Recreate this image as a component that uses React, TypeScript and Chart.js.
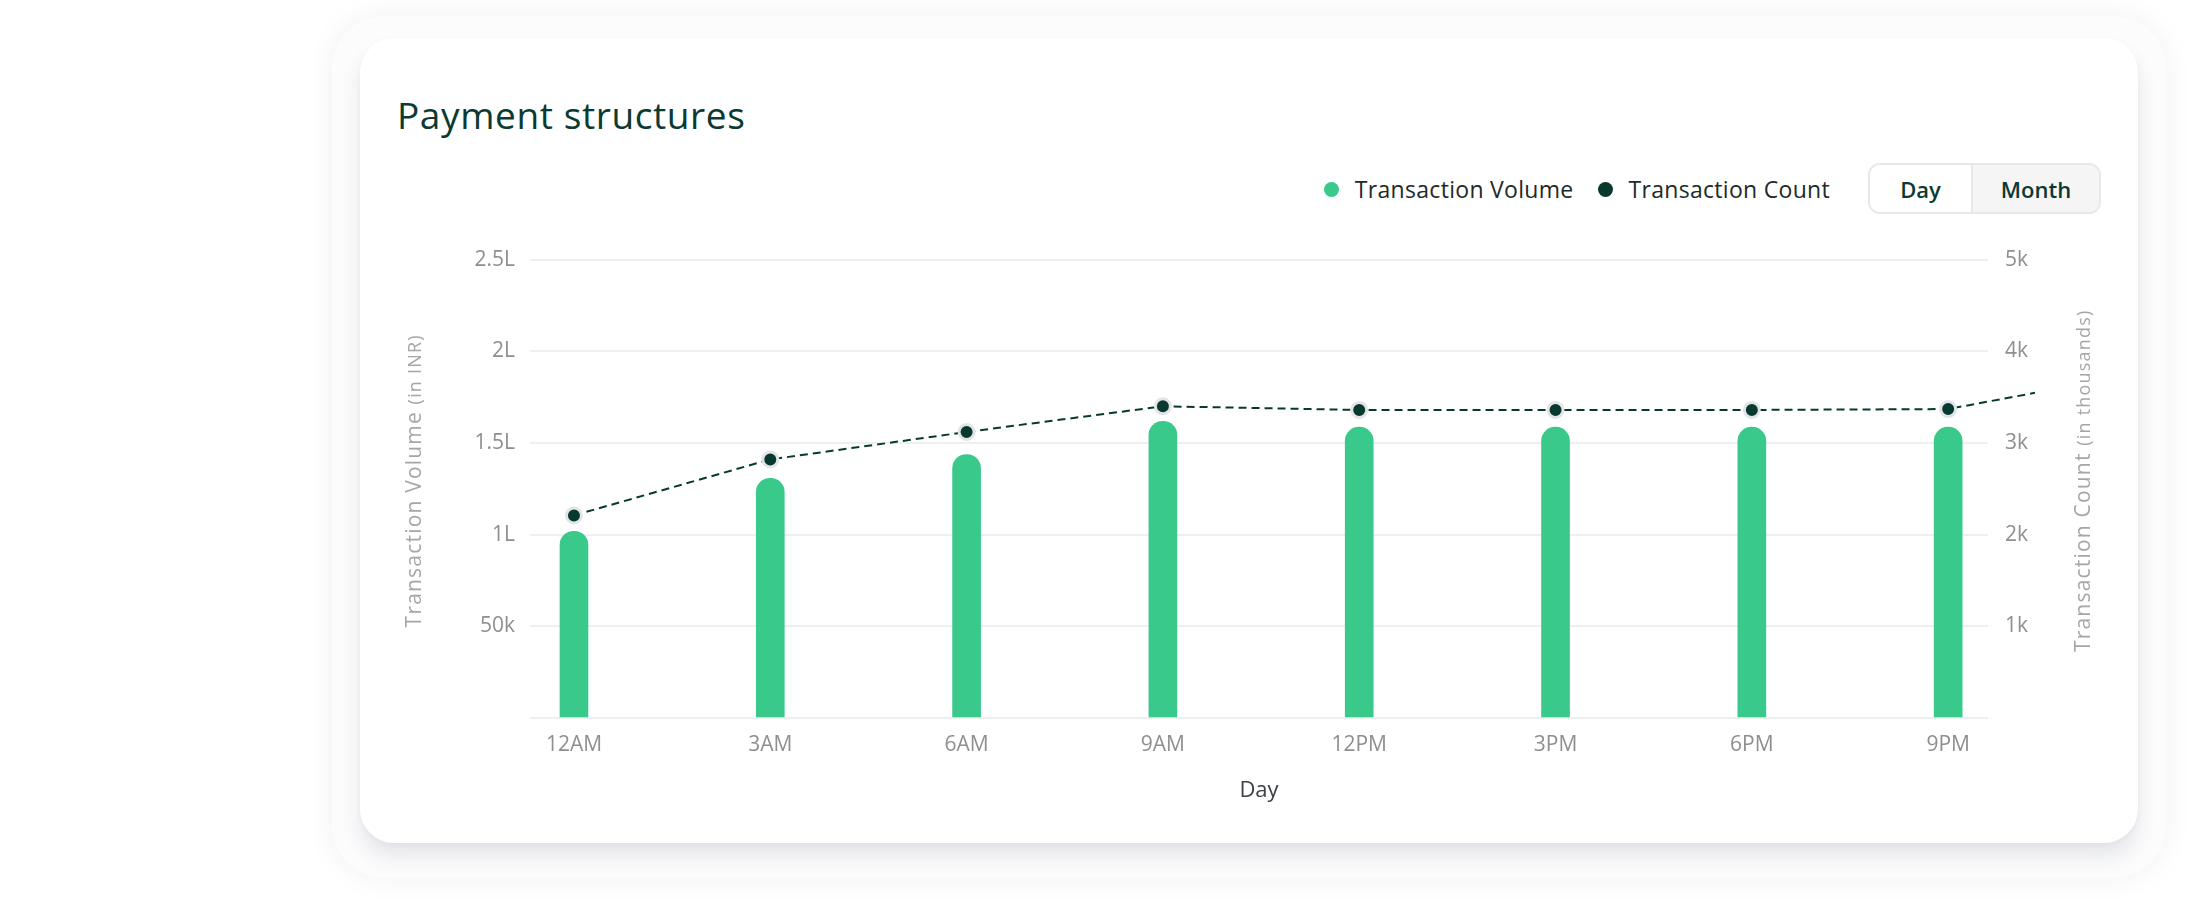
import { useEffect, useRef } from "react";
import { Chart, registerables } from "chart.js";

Chart.register(...registerables);

// x positions are indices into hourLabels; the 9th count point sits just past the plot edge
const hourLabels = ["12AM", "3AM", "6AM", "9AM", "12PM", "3PM", "6PM", "9PM", "12AM"];
const volumeValues = [101800, 130700, 143700, 161800, 158600, 158600, 158600, 158600];
const countValues = [2210, 2820, 3120, 3400, 3360, 3360, 3360, 3370, 3770];
const volumeTitle = ["Transaction Volume", "(in INR)"];
const countTitle = ["Transaction Count", "(in thousands)"];
const xTitle = "Day";
const periods = ["Day", "Month"];

const GREEN = "#38c98b";
const DARK = "#07392f";
const HALO = "#e3e4e8";
const GRID = "#efefef";
const TICK = "#8f8f8f";
const FONT = "'Open Sans', sans-serif";

const axisTitles = {
  id: "axisTitles",
  afterDraw(chart: any) {
    const { ctx, chartArea, scales } = chart;
    const cy = (chartArea.top + chartArea.bottom) / 2 - 8;
    const draw = (parts: string[], cx: number) => {
      ctx.save();
      ctx.translate(cx, cy);
      ctx.rotate(-Math.PI / 2);
      ctx.fillStyle = "#a6a6a6";
      ctx.textBaseline = "alphabetic";
      ctx.textAlign = "left";
      ctx.letterSpacing = "1.2px";
      ctx.font = `400 21px ${FONT}`;
      const w1 = ctx.measureText(parts[0] + " ").width;
      ctx.font = `400 18px ${FONT}`;
      const w2 = ctx.measureText(parts[1]).width;
      const x0 = -(w1 + w2) / 2;
      ctx.font = `400 21px ${FONT}`;
      ctx.fillText(parts[0] + " ", x0, 8);
      ctx.font = `400 18px ${FONT}`;
      ctx.fillText(parts[1], x0 + w1, 8);
      ctx.restore();
    };
    draw(volumeTitle, scales.yVolume.left + 33);
    draw(countTitle, scales.yCount.right - 38);
  },
};

function PaymentChart() {
  const chartRef = useRef<HTMLCanvasElement>(null);

  useEffect(() => {
    const ctx = chartRef.current?.getContext("2d");
    if (!ctx) return;

    const tickFont = { family: FONT, size: 21, weight: 400 as const };

    const chart = new Chart(ctx, {
      type: "bar",
      data: {
        datasets: [
          {
            type: "line",
            label: "Transaction Count",
            data: countValues.map((y, i) => ({ x: i, y })),
            yAxisID: "yCount",
            borderColor: DARK,
            borderWidth: 2,
            borderDash: [8, 5],
            tension: 0,
            pointRadius: 7.5,
            pointBackgroundColor: DARK,
            pointBorderColor: HALO,
            pointBorderWidth: 3,
            order: 1,
            clip: { left: 0, top: 30, right: 47, bottom: 0 },
          },
          {
            type: "bar",
            label: "Transaction Volume",
            data: volumeValues.map((y, i) => ({ x: i, y })),
            yAxisID: "yVolume",
            backgroundColor: GREEN,
            barThickness: 28,
            borderRadius: 14,
            borderSkipped: "start",
            order: 2,
          },
        ],
      },
      options: {
        animation: false,
        responsive: true,
        maintainAspectRatio: false,
        events: [],
        layout: { padding: { top: 27, left: 0, right: 0, bottom: 0 } },
        plugins: {
          legend: { display: false },
          tooltip: { enabled: false },
        },
        scales: {
          x: {
            type: "linear",
            min: -0.224,
            max: 7.203,
            offset: false,
            grid: { display: false, drawTicks: false },
            border: { display: false },
            ticks: {
              stepSize: 1,
              includeBounds: false,
              autoSkip: false,
              maxRotation: 0,
              padding: 14,
              color: TICK,
              font: tickFont,
              callback: (v: any) => hourLabels[v] ?? "",
            },
            title: {
              display: true,
              text: xTitle,
              color: "#3b4049",
              font: { family: FONT, size: 22, weight: 400 },
              padding: { top: 0, bottom: 26 },
            },
            afterFit: (s: any) => {
              s.height = 112;
            },
          },
          yVolume: {
            type: "linear",
            position: "left",
            min: 0,
            max: 250000,
            grid: { color: GRID, lineWidth: 2, drawTicks: false },
            border: { display: false },
            ticks: {
              stepSize: 50000,
              padding: 15,
              color: TICK,
              font: tickFont,
              callback: (v: any) =>
                v === 0 ? "" : v >= 100000 ? `${v / 100000}L` : `${v / 1000}k`,
            },
            afterFit: (s: any) => {
              s.width = 150;
            },
          },
          yCount: {
            type: "linear",
            position: "right",
            min: 0,
            max: 5000,
            grid: { display: false, drawTicks: false },
            border: { display: false },
            ticks: {
              stepSize: 1000,
              padding: 17,
              color: TICK,
              font: tickFont,
              callback: (v: any) => (v === 0 ? "" : `${v / 1000}k`),
            },
            afterFit: (s: any) => {
              s.width = 132;
            },
          },
        },
      },
      plugins: [axisTitles],
    });

    return () => {
      chart.destroy();
    };
  }, []);

  return (
    <div style={{ position: "absolute", left: 380, top: 230, width: 1740, height: 600 }}>
      <canvas ref={chartRef}></canvas>
    </div>
  );
}

export default function App() {
  return (
    <div
      style={{
        position: "fixed",
        left: 0,
        top: 0,
        width: 2208,
        height: 922,
        background: "#ffffff",
        overflow: "hidden",
        fontFamily: FONT,
      }}
    >
      <div
        style={{
          position: "absolute",
          left: 332,
          top: 16,
          width: 1834,
          height: 862,
          borderRadius: 52,
          background: "#fcfcfd",
          boxShadow: "0 0 30px rgba(0,0,0,0.06)",
        }}
      />
      <div
        style={{
          position: "absolute",
          left: 360,
          top: 38,
          width: 1778,
          height: 805,
          borderRadius: 34,
          background: "#ffffff",
          boxShadow: "0 14px 20px rgba(30,40,70,0.10), 0 2px 5px rgba(0,0,0,0.03)",
        }}
      />
      <div
        style={{
          position: "absolute",
          left: 397,
          top: 94,
          fontSize: 37,
          lineHeight: "42px",
          fontWeight: 500,
          letterSpacing: "0.6px",
          color: "#0b3a32",
        }}
      >
        Payment structures
      </div>

      <div
        style={{
          position: "absolute",
          right: 378,
          top: 189,
          transform: "translateY(-50%)",
          display: "flex",
          alignItems: "center",
          fontSize: 23,
          letterSpacing: "0.3px",
          color: "#1e2a28",
        }}
      >
        {[
          { label: "Transaction Volume", color: GREEN },
          { label: "Transaction Count", color: DARK },
        ].map((item, i) => (
          <div key={item.label} style={{ display: "flex", alignItems: "center", marginLeft: i ? 24 : 0 }}>
            <span
              style={{
                width: 15,
                height: 15,
                borderRadius: "50%",
                background: item.color,
                marginRight: 16,
              }}
            />
            <span>{item.label}</span>
          </div>
        ))}
      </div>

      <div
        style={{
          position: "absolute",
          left: 1868,
          top: 163,
          width: 233,
          height: 51,
          boxSizing: "border-box",
          border: "2px solid #e7e8ea",
          borderRadius: 12,
          overflow: "hidden",
          display: "flex",
        }}
      >
        {periods.map((p, i) => (
          <div
            key={p}
            style={{
              width: i ? undefined : 101,
              flex: i ? 1 : undefined,
              display: "flex",
              alignItems: "center",
              justifyContent: "center",
              fontSize: 22,
              fontWeight: 600,
              color: "#0b3a32",
              background: i ? "#f5f5f6" : "#ffffff",
              borderLeft: i ? "2px solid #e7e8ea" : "none",
            }}
          >
            {p}
          </div>
        ))}
      </div>

      <PaymentChart />
    </div>
  );
}
